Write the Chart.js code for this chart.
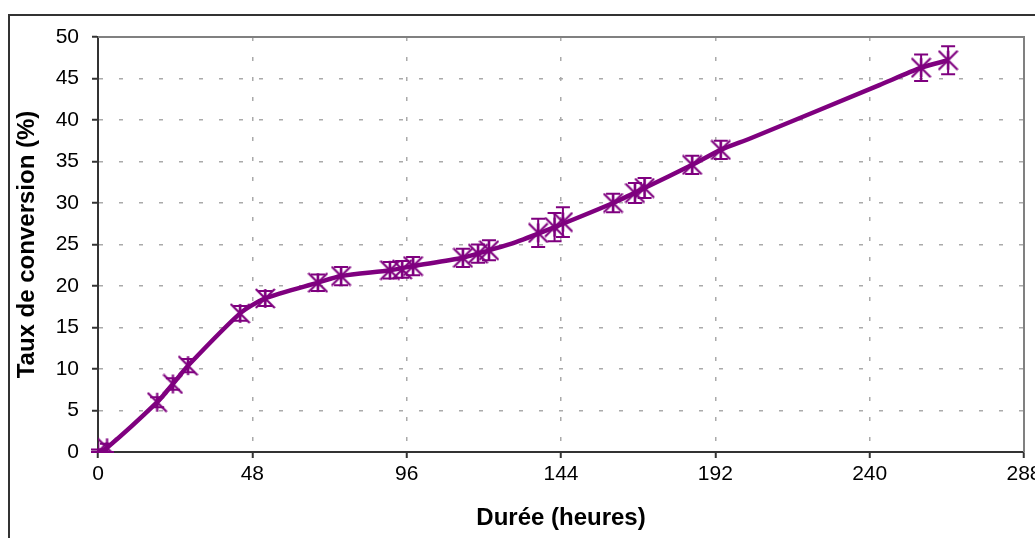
<!DOCTYPE html>
<html>
<head>
<meta charset="utf-8">
<script src="https://cdn.jsdelivr.net/npm/chart.js@4/dist/chart.umd.min.js"></script>
<style>
  html, body { margin: 0; padding: 0; background: #fff; }
  #wrap { position: relative; width: 1035px; height: 538px; }
</style>
</head>
<body>
<div id="wrap"><canvas id="chart" width="1035" height="538"></canvas></div>
<script>
// measured conversion (markers + error bars)
const hours = [0, 2.8, 18.4, 23.3, 28, 44.2, 52, 68.4, 75.6, 90.8, 94.6, 98, 113.5, 118.2, 121.6, 136.9, 142, 144.6, 160.2, 167, 170, 184.8, 193.7, 256, 264.4];
const conversion = [0, 0.5, 6.0, 8.2, 10.4, 16.7, 18.5, 20.4, 21.2, 21.9, 22.0, 22.4, 23.4, 23.9, 24.3, 26.4, 27.1, 27.7, 30.0, 31.2, 31.8, 34.6, 36.4, 46.3, 47.2];
const errors = [0.3, 0.5, 0.6, 0.7, 0.8, 0.9, 0.9, 1.0, 1.1, 1.0, 1.0, 1.1, 1.1, 1.1, 1.2, 1.7, 1.7, 1.8, 1.1, 1.2, 1.2, 1.1, 1.1, 1.6, 1.7];

// smoothed curve
const curveHours = [0, 2.8, 18.4, 23.3, 28, 44.2, 52, 68.4, 75.6, 90.8, 98, 113.5, 121.6, 130, 142, 160.2, 170, 184.8, 193.7, 203, 243, 256, 264.4];
const curveRate = [0, 0.5, 6.0, 8.2, 10.4, 16.7, 18.5, 20.4, 21.2, 21.9, 22.4, 23.4, 24.3, 25.3, 27.1, 30.0, 31.8, 34.6, 36.4, 37.8, 44.2, 46.3, 47.2];

const xTicks = [0, 48, 96, 144, 192, 240, 288];
const yTicks = [0, 5, 10, 15, 20, 25, 30, 35, 40, 45, 50];

const PURPLE = '#7f007f';

function starMarker(size) {
  const c = document.createElement('canvas');
  c.width = size; c.height = size;
  const g = c.getContext('2d');
  const m = size / 2, r = size / 2 - 1;
  g.strokeStyle = PURPLE;
  g.lineWidth = 2.2;
  g.beginPath();
  g.moveTo(m - r, m - r); g.lineTo(m + r, m + r);
  g.moveTo(m + r, m - r); g.lineTo(m - r, m + r);
  g.moveTo(m, 1); g.lineTo(m, size - 1);
  g.stroke();
  return c;
}

const frame = {
  id: 'frame',
  beforeDraw(chart) {
    const ctx = chart.ctx;
    ctx.save();
    ctx.strokeStyle = '#333';
    ctx.lineWidth = 2;
    ctx.beginPath();
    ctx.moveTo(9, 538); ctx.lineTo(9, 15); ctx.lineTo(1035, 15);
    ctx.stroke();
    ctx.restore();
  },
  beforeDatasetsDraw(chart) {
    const {ctx, chartArea: a} = chart;
    ctx.save();
    ctx.strokeStyle = '#808080';
    ctx.lineWidth = 2;
    ctx.beginPath();
    ctx.moveTo(a.left, a.top); ctx.lineTo(a.right, a.top); ctx.lineTo(a.right, a.bottom);
    ctx.stroke();
    ctx.restore();
  }
};

const errorBars = {
  id: 'errorBars',
  afterDatasetsDraw(chart) {
    const meta = chart.getDatasetMeta(1);
    const ys = chart.scales.y;
    const ctx = chart.ctx;
    ctx.save();
    ctx.strokeStyle = PURPLE;
    ctx.lineWidth = 2;
    meta.data.forEach((pt, i) => {
      const top = ys.getPixelForValue(conversion[i] + errors[i]);
      const bot = ys.getPixelForValue(Math.max(0, conversion[i] - errors[i]));
      ctx.beginPath();
      ctx.moveTo(pt.x, top); ctx.lineTo(pt.x, bot);
      ctx.moveTo(pt.x - 7, top); ctx.lineTo(pt.x + 7, top);
      ctx.moveTo(pt.x - 7, bot); ctx.lineTo(pt.x + 7, bot);
      ctx.stroke();
    });
    ctx.restore();
  }
};

const tickFont = { family: 'Liberation Sans, Arial, sans-serif', size: 21 };
const titleFont = { family: 'Liberation Sans, Arial, sans-serif', size: 24, weight: 'bold' };
const gridStyle = {
  color: '#aaa',
  lineWidth: 1.5,
  tickColor: '#333',
  tickWidth: 2,
  tickLength: 6,
  tickBorderDash: [],
};
const axisBorder = { color: '#333', width: 2, dash: [4, 16] };

new Chart(document.getElementById('chart'), {
  type: 'scatter',
  data: {
    datasets: [
      {
        type: 'line',
        data: curveHours.map((h, i) => ({ x: h, y: curveRate[i] })),
        borderColor: PURPLE,
        borderWidth: 4.5,
        pointRadius: 0,
        tension: 0.25,
        fill: false,
      },
      {
        data: hours.map((h, i) => ({ x: h, y: conversion[i] })),
        pointStyle: starMarker(21),
        pointRadius: 10,
        showLine: false,
      },
    ],
  },
  options: {
    responsive: false,
    animation: false,
    events: [],
    layout: { padding: { top: 37, right: 11, left: 0, bottom: 0 } },
    plugins: { legend: { display: false }, tooltip: { enabled: false } },
    scales: {
      x: {
        type: 'linear',
        min: 0, max: 288,
        afterBuildTicks: s => { s.ticks = xTicks.map(v => ({ value: v })); },
        afterFit: s => { s.height = 86; s.paddingLeft = 0; s.paddingRight = 0; },
        grid: gridStyle,
        border: axisBorder,
        ticks: { color: '#000', font: tickFont, padding: 4, maxRotation: 0 },
        title: { display: true, text: 'Durée (heures)', color: '#000', font: titleFont, padding: { bottom: 5 } },
      },
      y: {
        min: 0, max: 50,
        afterBuildTicks: s => { s.ticks = yTicks.map(v => ({ value: v })); },
        afterFit: s => { s.width = 98; },
        grid: gridStyle,
        border: axisBorder,
        ticks: { color: '#000', font: tickFont, padding: 13 },
        title: { display: true, text: 'Taux de conversion (%)', color: '#000', font: titleFont, padding: { top: 13 } },
      },
    },
  },
  plugins: [frame, errorBars],
});
</script>
</body>
</html>
